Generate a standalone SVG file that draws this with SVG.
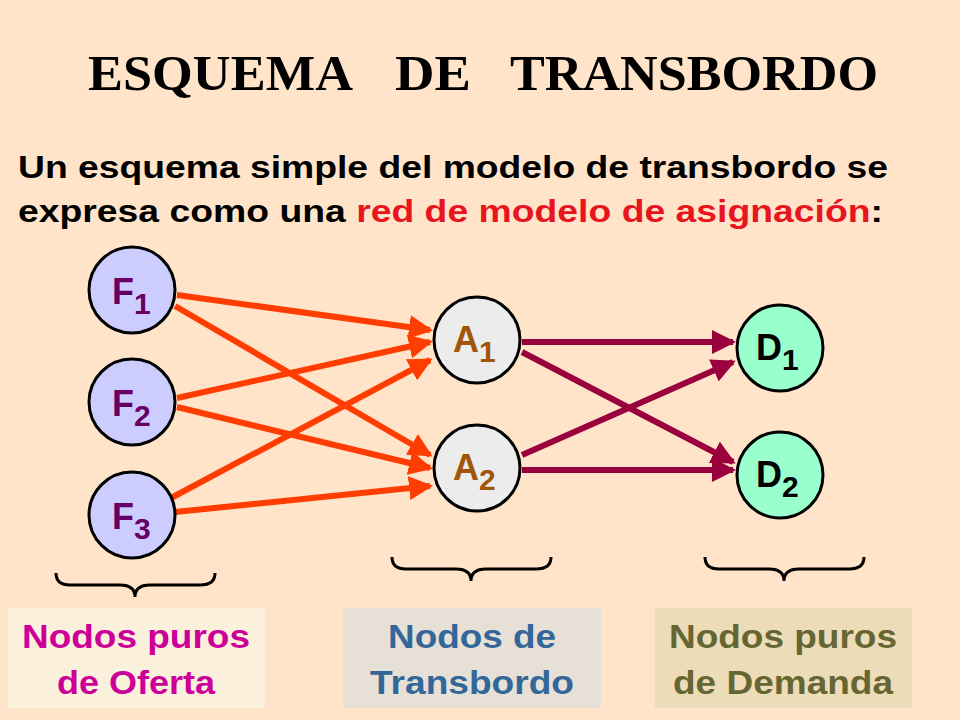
<svg xmlns="http://www.w3.org/2000/svg" width="960" height="720" viewBox="0 0 960 720">
<style>
.n{stroke:#000;stroke-width:3}
.t{font-family:"Liberation Sans",Arial,sans-serif;font-weight:bold}
.h{font-family:"Liberation Serif",serif;font-weight:bold;font-size:50px}
.o{stroke:#ff3d00;stroke-width:6;fill:none;marker-end:url(#ao)}
.p{stroke:#99003d;stroke-width:6;fill:none;marker-end:url(#ap)}
.b{fill:none;stroke:#000;stroke-width:3}
.lb{font-family:"Liberation Sans Narrow","Liberation Sans",Arial,sans-serif;font-weight:bold;font-size:34px}
</style>
<defs>
<marker id="ao" markerWidth="4" markerHeight="4" refX="3.5" refY="2" orient="auto"><path d="M0,0L4,2L0,4z" fill="#ff3d00"/></marker>
<marker id="ap" markerWidth="4" markerHeight="4" refX="3.5" refY="2" orient="auto"><path d="M0,0L4,2L0,4z" fill="#99003d"/></marker>
</defs>
<rect width="960" height="720" fill="#ffe4c9"/>
<text class="h" x="88" y="90" textLength="265" lengthAdjust="spacingAndGlyphs">ESQUEMA</text>
<text class="h" x="395" y="90" textLength="76" lengthAdjust="spacingAndGlyphs">DE</text>
<text class="h" x="510" y="90" textLength="368" lengthAdjust="spacingAndGlyphs">TRANSBORDO</text>
<text class="t" x="18" y="178" font-size="31" textLength="870" lengthAdjust="spacingAndGlyphs">Un esquema simple del modelo de transbordo se</text>
<text class="t" x="18" y="222" font-size="31" textLength="865" lengthAdjust="spacingAndGlyphs">expresa como una <tspan fill="#e8141e">red de modelo de asignación</tspan>:</text>
<g id="connectors">
<path class="o" d="M177,295L430,330"/>
<path class="o" d="M175,306L430,455"/>
<path class="o" d="M177,398L430,342"/>
<path class="o" d="M177,407L430,468"/>
<path class="o" d="M171,498L430,360"/>
<path class="o" d="M175,512L430,486"/>
<path class="p" d="M522,342L733,342"/>
<path class="p" d="M522,352L733,462"/>
<path class="p" d="M522,455L733,362"/>
<path class="p" d="M522,470L733,470"/>
</g>
<g id="F1"><circle class="n" cx="132" cy="290" r="43" fill="#ccccff"/><text class="t" x="112" y="304" font-size="36" fill="#660066">F<tspan font-size="30" dy="10">1</tspan></text></g>
<g id="F2"><circle class="n" cx="132" cy="402" r="43" fill="#ccccff"/><text class="t" x="112" y="416" font-size="36" fill="#660066">F<tspan font-size="30" dy="10">2</tspan></text></g>
<g id="F3"><circle class="n" cx="132" cy="515" r="43" fill="#ccccff"/><text class="t" x="112" y="529" font-size="36" fill="#660066">F<tspan font-size="30" dy="10">3</tspan></text></g>
<g id="A1"><circle class="n" cx="477" cy="340" r="43" fill="#ececec"/><text class="t" x="453" y="352" font-size="36" fill="#a0560a">A<tspan font-size="30" dy="10">1</tspan></text></g>
<g id="A2"><circle class="n" cx="477" cy="468" r="43" fill="#ececec"/><text class="t" x="453" y="480" font-size="36" fill="#a0560a">A<tspan font-size="30" dy="10">2</tspan></text></g>
<g id="D1"><circle class="n" cx="780" cy="348" r="43" fill="#99ffcc"/><text class="t" x="756" y="360" font-size="36" fill="#000">D<tspan font-size="30" dy="10">1</tspan></text></g>
<g id="D2"><circle class="n" cx="780" cy="475" r="43" fill="#99ffcc"/><text class="t" x="756" y="487" font-size="36" fill="#000">D<tspan font-size="30" dy="10">2</tspan></text></g>
<g id="braces">
<path class="b" d="M56,573Q56,585 70,585L120,585Q135,585 135,597Q135,585 150,585L200,585Q215,585 215,573"/>
<path class="b" d="M392,557Q392,569 406,569L456,569Q471,569 471,581Q471,569 486,569L536,569Q551,569 551,557"/>
<path class="b" d="M705,557Q705,569 719,569L769,569Q784,569 784,581Q784,569 799,569L849,569Q864,569 864,557"/>
</g>
<g id="L1"><rect x="8" y="608" width="257" height="100" fill="#fbf0dc"/><text class="lb" x="136" y="648" text-anchor="middle" fill="#cc0099" textLength="228" lengthAdjust="spacingAndGlyphs">Nodos puros</text><text class="lb" x="136" y="694" text-anchor="middle" fill="#cc0099" textLength="158" lengthAdjust="spacingAndGlyphs">de Oferta</text></g>
<g id="L2"><rect x="343" y="608" width="258" height="100" fill="#e6e0d6"/><text class="lb" x="472" y="648" text-anchor="middle" fill="#336699" textLength="168" lengthAdjust="spacingAndGlyphs">Nodos de</text><text class="lb" x="472" y="694" text-anchor="middle" fill="#336699" textLength="204" lengthAdjust="spacingAndGlyphs">Transbordo</text></g>
<g id="L3"><rect x="655" y="608" width="257" height="100" fill="#ecdcb8"/><text class="lb" x="783" y="648" text-anchor="middle" fill="#666633" textLength="228" lengthAdjust="spacingAndGlyphs">Nodos puros</text><text class="lb" x="783" y="694" text-anchor="middle" fill="#666633" textLength="220" lengthAdjust="spacingAndGlyphs">de Demanda</text></g>
</svg>
